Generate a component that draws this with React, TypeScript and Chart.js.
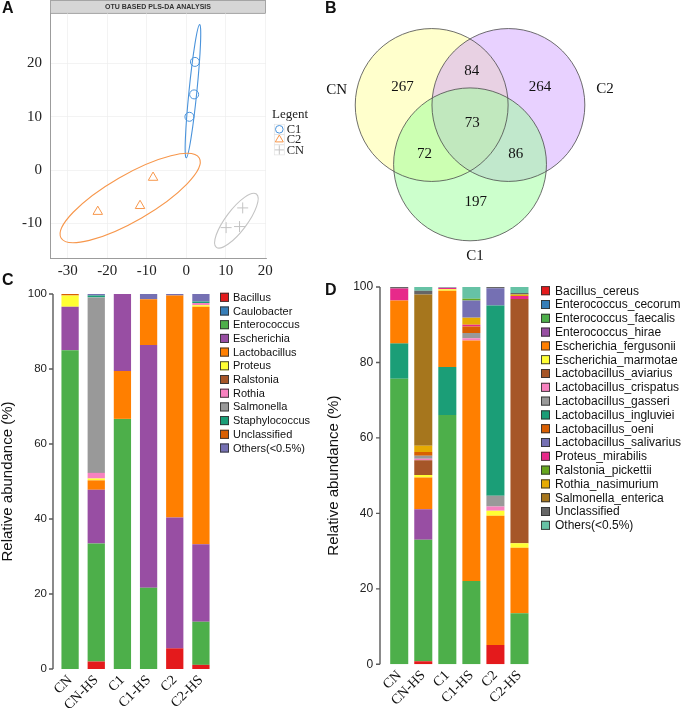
import React, { useEffect, useRef } from "react";
import { Chart, registerables } from "chart.js";
Chart.register(...registerables);

const SANS = '"Liberation Sans", Arial, Helvetica, sans-serif';
const SERIF = '"Liberation Serif", "Times New Roman", Times, serif';

// ---------------- Panel A : PLS-DA ----------------
const plsTitle = "OTU BASED PLS-DA ANALYSIS";
const plsLegendTitle = "Legent";
const plsGroups = ["C1", "C2", "CN"];
const plsColors = ["#4a93db", "#f7974c", "#c4c4c4"];
const plsShapes = ["circle", "triangle", "cross"];
const plsRadius = [4.5, 5.5, 5.5];
const c1Comp1 = [2.2, 2.0, 0.8];
const c1Comp2 = [20.3, 14.2, 10.0];
const c2Comp1 = [-22.4, -11.7, -8.4];
const c2Comp2 = [-7.8, -6.7, -1.4];
const cnComp1 = [10.1, 13.5, 14.3];
const cnComp2 = [-10.8, -10.6, -7.1];
// confidence ellipses: centre and two conjugate semi-axes (data units)
const ellipseCx = [1.7, -14.2, 12.7];
const ellipseCy = [14.8, -5.25, -9.5];
const ellipseUx = [1.7, 17.5, 5.07];
const ellipseUy = [12.5, 7.5, 5.0];
const ellipseVx = [1.0, 2.9, 2.17];
const ellipseVy = [0, -3.73, -1.2];

// ---------------- Panel B : Venn ----------------
const vennSets = ["CN", "C2", "C1"];
const vennFill = ["rgba(255,255,153,0.5)", "rgba(204,153,255,0.45)", "rgba(153,255,153,0.5)"];
const vennCx = [50.6, 78.0, 64.3];
const vennCy = [37.5, 37.5, 58.7];
const vennR = [27.3, 27.3, 27.3];
const vennSetLabelX = [16.7, 112.5, 66.1];
const vennSetLabelY = [32.1, 31.9, 91.4];
const vennCounts = ["267", "84", "264", "73", "72", "86", "197"];
const vennCountX = [40.2, 64.9, 89.3, 65.1, 48.0, 80.6, 66.3];
const vennCountY = [31.2, 25.4, 31.2, 44.0, 55.1, 55.1, 72.1];

// ---------------- Shared samples ----------------
const samples = ["CN", "CN-HS", "C1", "C1-HS", "C2", "C2-HS"];
const yAxisTitle = "Relative abundance (%)";

// ---------------- Panel C : genus ----------------
const genusNames = ["Bacillus", "Caulobacter", "Enterococcus", "Escherichia", "Lactobacillus", "Proteus", "Ralstonia", "Rothia", "Salmonella", "Staphylococcus", "Unclassified", "Others(<0.5%)"];
const genusColors = ["#e41a1c", "#377eb8", "#4daf4a", "#984ea3", "#ff7f00", "#ffff33", "#a65628", "#f781bf", "#999999", "#1b9e77", "#d95f02", "#7570b3"];
const gBacillus = [0, 2.0, 0, 0, 5.5, 1.1];
const gCaulobacter = [0, 0, 0, 0, 0, 0];
const gEnterococcus = [85.0, 31.5, 66.7, 21.7, 0, 11.5];
const gEscherichia = [11.6, 14.3, 20.5, 64.7, 34.9, 20.7];
const gLactobacillus = [0, 2.5, 12.8, 12.2, 59.2, 63.3];
const gProteus = [3.0, 0.5, 0, 0, 0, 0.4];
const gRalstonia = [0, 0, 0, 0, 0, 0];
const gRothia = [0, 1.5, 0, 0, 0, 0.6];
const gSalmonella = [0, 46.8, 0, 0, 0, 0];
const gStaphylococcus = [0, 0.5, 0, 0, 0, 0.4];
const gUnclassified = [0.4, 0, 0, 0, 0, 0];
const gOthers = [0, 0.4, 0, 1.4, 0.4, 2.0];
const genusValues = [gBacillus, gCaulobacter, gEnterococcus, gEscherichia, gLactobacillus, gProteus, gRalstonia, gRothia, gSalmonella, gStaphylococcus, gUnclassified, gOthers];
const genusStackOrder: Record<string, string[]> = {
  C1: ["Bacillus", "Enterococcus", "Lactobacillus", "Escherichia"],
};

// ---------------- Panel D : species ----------------
const speciesNames = ["Bacillus_cereus", "Enterococcus_cecorum", "Enterococcus_faecalis", "Enterococcus_hirae", "Escherichia_fergusonii", "Escherichia_marmotae", "Lactobacillus_aviarius", "Lactobacillus_crispatus", "Lactobacillus_gasseri", "Lactobacillus_ingluviei", "Lactobacillus_oeni", "Lactobacillus_salivarius", "Proteus_mirabilis", "Ralstonia_pickettii", "Rothia_nasimurium", "Salmonella_enterica", "Unclassified", "Others(<0.5%)"];
const speciesColors = ["#e41a1c", "#377eb8", "#4daf4a", "#984ea3", "#ff7f00", "#ffff33", "#a65628", "#f781bf", "#999999", "#1b9e77", "#d95f02", "#7570b3", "#e7298a", "#66a61e", "#e6ab02", "#a6761d", "#666666", "#66c2a5"];
const sCereus = [0, 0.8, 0, 0, 5.1, 0];
const sCecorum = [0, 0, 0, 0, 0, 0];
const sFaecalis = [75.7, 32.2, 66.1, 22.1, 0, 13.5];
const sHirae = [0, 8.1, 0, 0, 0, 0];
const sFergusonii = [11.3, 8.4, 20.2, 63.7, 34.3, 17.4];
const sMarmotae = [0, 0.7, 0.4, 0, 1.3, 1.2];
const sAviarius = [0, 3.9, 0, 0, 0, 64.7];
const sCrispatus = [0, 0.4, 0, 0.6, 1.1, 0];
const sGasseri = [0, 0.8, 0, 1.4, 2.9, 0];
const sIngluviei = [9.4, 0, 12.7, 0, 50.4, 0];
const sOeni = [0, 1.0, 0, 1.7, 0, 0];
const sSalivarius = [0, 0, 0, 4.5, 4.6, 0];
const sMirabilis = [3.2, 0, 0.4, 0.5, 0, 0.8];
const sPickettii = [0, 0, 0, 0.5, 0, 0];
const sNasimurium = [0, 1.6, 0, 1.9, 0, 0.4];
const sEnterica = [0, 40.1, 0, 0, 0, 0];
const sUnclassified = [0.4, 1.0, 0, 0, 0.3, 0.4];
const sOthers = [0, 1.0, 0.2, 3.1, 0, 1.6];
const speciesValues = [sCereus, sCecorum, sFaecalis, sHirae, sFergusonii, sMarmotae, sAviarius, sCrispatus, sGasseri, sIngluviei, sOeni, sSalivarius, sMirabilis, sPickettii, sNasimurium, sEnterica, sUnclassified, sOthers];
const speciesStackOrder: Record<string, string[]> = {
  CN: ["Enterococcus_faecalis", "Lactobacillus_ingluviei", "Escherichia_fergusonii", "Proteus_mirabilis", "Unclassified"],
  C1: ["Enterococcus_faecalis", "Lactobacillus_ingluviei", "Escherichia_fergusonii", "Escherichia_marmotae", "Proteus_mirabilis"],
  "C1-HS": ["Enterococcus_faecalis", "Escherichia_fergusonii", "Lactobacillus_crispatus", "Lactobacillus_gasseri", "Lactobacillus_oeni", "Proteus_mirabilis", "Rothia_nasimurium", "Lactobacillus_salivarius", "Ralstonia_pickettii"],
};

// floating segments [lo, hi] following each sample's stacking order
function buildSegments(names: string[], values: number[][], order: Record<string, string[]>) {
  const out: any[][] = names.map(() => samples.map(() => null));
  samples.forEach((s, j) => {
    const first = order[s] || [];
    const idx = [...first.map((n) => names.indexOf(n)), ...names.map((_, i) => i).filter((i) => !first.includes(names[i]))];
    let base = 0;
    idx.forEach((i) => {
      const v = values[i][j];
      if (v > 0) {
        out[i][j] = [base, base + v];
        base += v;
      }
    });
  });
  return out;
}

// ---------------- plugins ----------------
function drawShape(ctx: CanvasRenderingContext2D, shape: string, x: number, y: number, r: number) {
  ctx.beginPath();
  if (shape === "circle") ctx.arc(x, y, r, 0, Math.PI * 2);
  else if (shape === "triangle") {
    ctx.moveTo(x, y - r);
    ctx.lineTo(x + r * 0.866, y + r * 0.5);
    ctx.lineTo(x - r * 0.866, y + r * 0.5);
    ctx.closePath();
  } else {
    ctx.moveTo(x - r, y);
    ctx.lineTo(x + r, y);
    ctx.moveTo(x, y - r);
    ctx.lineTo(x, y + r);
  }
  ctx.stroke();
}

const headerPlugin = {
  id: "plsHeader",
  beforeDraw(chart: any) {
    const { ctx, chartArea } = chart;
    ctx.save();
    ctx.fillStyle = "#d6d6d6";
    ctx.fillRect(chartArea.left, 0.5, chartArea.right - chartArea.left, chartArea.top - 0.5);
    ctx.strokeStyle = "#a5a5a5";
    ctx.lineWidth = 1;
    ctx.strokeRect(chartArea.left + 0.5, 0.5, chartArea.right - chartArea.left - 1, chartArea.top - 0.5);
    ctx.restore();
  },
};

const ellipsePlugin = {
  id: "plsEllipses",
  beforeDatasetsDraw(chart: any) {
    const { ctx, scales } = chart;
    const xs = scales.x, ys = scales.y;
    const kx = xs.getPixelForValue(1) - xs.getPixelForValue(0);
    const ky = ys.getPixelForValue(1) - ys.getPixelForValue(0);
    ellipseCx.forEach((cx, i) => {
      ctx.save();
      ctx.beginPath();
      ctx.translate(xs.getPixelForValue(cx), ys.getPixelForValue(ellipseCy[i]));
      ctx.transform(ellipseUx[i] * kx, ellipseUy[i] * ky, ellipseVx[i] * kx, ellipseVy[i] * ky, 0, 0);
      ctx.arc(0, 0, 1, 0, Math.PI * 2);
      ctx.restore();
      ctx.save();
      ctx.strokeStyle = plsColors[i];
      ctx.lineWidth = 1.1;
      ctx.stroke();
      ctx.restore();
    });
  },
};

const plsLegendPlugin = {
  id: "plsLegend",
  afterDraw(chart: any, _a: any, o: any) {
    const ctx = chart.ctx;
    ctx.save();
    ctx.fillStyle = "#222";
    ctx.textBaseline = "middle";
    ctx.font = `13px ${SERIF}`;
    ctx.fillText(plsLegendTitle, o.titleX, o.titleY);
    ctx.font = `12.5px ${SERIF}`;
    plsGroups.forEach((g, i) => {
      const y = o.rowY + i * o.rowStep;
      ctx.strokeStyle = "#e2e2e2";
      ctx.lineWidth = 0.7;
      ctx.strokeRect(o.keyX - 5, y - 5, 10, 10);
      ctx.strokeStyle = plsColors[i];
      ctx.lineWidth = 1;
      drawShape(ctx, plsShapes[i], o.keyX, y, plsShapes[i] === "circle" ? 3.8 : 4.6);
      ctx.fillStyle = "#222";
      ctx.fillText(g, o.textX, y + 0.5);
    });
    ctx.restore();
  },
};

const vennPlugin = {
  id: "venn",
  beforeDatasetsDraw(chart: any) {
    const { ctx, scales } = chart;
    const xs = scales.x, ys = scales.y;
    const k = xs.getPixelForValue(1) - xs.getPixelForValue(0);
    ctx.save();
    vennSets.forEach((_, i) => {
      ctx.beginPath();
      ctx.arc(xs.getPixelForValue(vennCx[i]), ys.getPixelForValue(vennCy[i]), vennR[i] * k, 0, Math.PI * 2);
      ctx.fillStyle = vennFill[i];
      ctx.fill();
    });
    vennSets.forEach((_, i) => {
      ctx.beginPath();
      ctx.arc(xs.getPixelForValue(vennCx[i]), ys.getPixelForValue(vennCy[i]), vennR[i] * k, 0, Math.PI * 2);
      ctx.strokeStyle = "#4a4a4a";
      ctx.lineWidth = 0.8;
      ctx.stroke();
    });
    ctx.restore();
  },
  afterDatasetsDraw(chart: any) {
    const { ctx, scales } = chart;
    const xs = scales.x, ys = scales.y;
    ctx.save();
    ctx.fillStyle = "#111";
    ctx.textAlign = "center";
    ctx.textBaseline = "middle";
    ctx.font = `15px ${SERIF}`;
    vennCounts.forEach((t, i) => ctx.fillText(t, xs.getPixelForValue(vennCountX[i]), ys.getPixelForValue(vennCountY[i])));
    vennSets.forEach((t, i) => ctx.fillText(t, xs.getPixelForValue(vennSetLabelX[i]), ys.getPixelForValue(vennSetLabelY[i])));
    ctx.restore();
  },
};

const axisLinePlugin = {
  id: "axisLine",
  afterDraw(chart: any, _a: any, o: any) {
    const { ctx, chartArea } = chart;
    const y = chart.scales.y;
    const x0 = chartArea.left - o.gap;
    ctx.save();
    ctx.strokeStyle = "#5a5a5a";
    ctx.lineWidth = 1.4;
    ctx.beginPath();
    ctx.moveTo(x0, y.getPixelForValue(0));
    ctx.lineTo(x0, y.getPixelForValue(100));
    y.ticks.forEach((t: any) => {
      const py = y.getPixelForValue(t.value);
      ctx.moveTo(x0 - 4, py);
      ctx.lineTo(x0, py);
    });
    ctx.stroke();
    ctx.restore();
  },
};

const boxLegendPlugin = {
  id: "boxLegend",
  afterDraw(chart: any, _a: any, o: any) {
    const ctx = chart.ctx;
    ctx.save();
    ctx.font = `${o.fontSize}px ${SANS}`;
    ctx.textBaseline = "middle";
    chart.data.datasets.forEach((ds: any, i: number) => {
      const y = o.top + i * o.spacing;
      ctx.fillStyle = ds.backgroundColor;
      ctx.fillRect(o.left, y - 4.5, 9, 9);
      ctx.strokeStyle = "#333";
      ctx.lineWidth = 0.9;
      ctx.strokeRect(o.left + 0.45, y - 4.05, 8.1, 8.1);
      ctx.fillStyle = "#111";
      ctx.fillText(ds.label, o.left + o.textOffset, y + 0.5);
    });
    ctx.restore();
  },
};

const noPad = (s: any) => {
  s.paddingTop = 0;
  s.paddingBottom = 0;
};

// ---------------- configs ----------------
function makePanelA() {
  const xs = [c1Comp1, c2Comp1, cnComp1];
  const ys = [c1Comp2, c2Comp2, cnComp2];
  return {
    type: "scatter",
    data: {
      datasets: plsGroups.map((g, i) => ({
        label: g,
        data: xs[i].map((x, j) => ({ x, y: ys[i][j] })),
        pointStyle: plsShapes[i],
        pointRadius: plsRadius[i],
        borderColor: plsColors[i],
        backgroundColor: "rgba(0,0,0,0)",
        borderWidth: 1,
      })),
    },
    options: {
      animation: false,
      responsive: true,
      maintainAspectRatio: false,
      layout: { padding: { left: 0, right: 54, top: 0, bottom: 0 } },
      plugins: {
        legend: { display: false },
        tooltip: { enabled: false },
        title: { display: true, text: plsTitle, fullSize: false, font: { family: SANS, size: 7 }, color: "#333", padding: { top: 3, bottom: 2 } },
        plsLegend: { titleX: 272, titleY: 114.7, keyX: 279.3, rowY: 129.3, rowStep: 10.3, textX: 286.7 },
      },
      scales: {
        x: {
          type: "linear", min: -34.5, max: 20.2,
          ticks: { stepSize: 10, includeBounds: false, font: { family: SERIF, size: 15 }, color: "#222", padding: 4 },
          grid: { color: "#eeeeee", lineWidth: 0.7, drawTicks: false },
          border: { color: "#9c9c9c", width: 1 },
          afterFit: (s: any) => { s.height = 27; },
        },
        y: {
          type: "linear", min: -16.5, max: 29.4,
          ticks: { stepSize: 10, includeBounds: false, font: { family: SERIF, size: 15 }, color: "#222", padding: 8 },
          grid: { color: "#eeeeee", lineWidth: 0.7, drawTicks: false },
          border: { color: "#9c9c9c", width: 1 },
          afterFit: (s: any) => { s.width = 50; noPad(s); },
        },
      },
    },
    plugins: [headerPlugin, ellipsePlugin, plsLegendPlugin],
  };
}

function makePanelB() {
  return {
    type: "scatter",
    data: { datasets: [{ label: "regions", data: vennCountX.map((x, i) => ({ x, y: vennCountY[i] })), pointRadius: 0 }] },
    options: {
      animation: false,
      responsive: true,
      maintainAspectRatio: false,
      layout: { padding: 0 },
      plugins: { legend: { display: false }, tooltip: { enabled: false } },
      scales: {
        x: { display: false, min: 0, max: 140 },
        y: { display: false, min: 0, max: 100, reverse: true },
      },
    },
    plugins: [vennPlugin],
  };
}

function makeBarConfig(names: string[], colors: string[], values: number[][], order: Record<string, string[]>, p: any) {
  const segs = buildSegments(names, values, order);
  return {
    type: "bar",
    data: {
      labels: samples,
      datasets: names.map((n, i) => ({
        label: n,
        data: segs[i],
        backgroundColor: colors[i],
        borderWidth: 0,
        barPercentage: p.barPct,
        categoryPercentage: 1,
      })),
    },
    options: {
      animation: false,
      responsive: true,
      maintainAspectRatio: false,
      layout: { padding: { left: 0, right: p.padRight, top: p.padTop, bottom: 0 } },
      plugins: {
        legend: { display: false },
        tooltip: { enabled: false },
        axisLine: { gap: p.gap },
        boxLegend: p.legend,
      },
      scales: {
        x: {
          type: "category", offset: true, stacked: true,
          grid: { display: false, drawTicks: false },
          border: { display: false },
          ticks: { font: { family: SERIF, size: 14 }, color: "#111", minRotation: 45, maxRotation: 45, padding: 3, autoSkip: false },
          afterFit: (s: any) => { s.height = p.xHeight; s.paddingLeft = 0; s.paddingRight = 0; },
        },
        y: {
          min: 0, max: 100, stacked: false,
          grid: { display: false, drawTicks: false },
          border: { display: false },
          ticks: { stepSize: 20, font: { family: SANS, size: p.tickSize }, color: "#222", padding: p.tickPad },
          title: { display: true, text: yAxisTitle, font: { family: SANS, size: 15, lineHeight: 1 }, color: "#111", padding: { top: p.titlePad, bottom: 0 } },
          afterFit: (s: any) => { s.width = p.yWidth; noPad(s); },
        },
      },
    },
    plugins: [axisLinePlugin, boxLegendPlugin],
  };
}

function makePanelC() {
  return makeBarConfig(genusNames, genusColors, genusValues, genusStackOrder, {
    barPct: 0.66, padRight: 108, padTop: 14, gap: 4, xHeight: 39, yWidth: 57, tickSize: 11.5, tickPad: 10, titlePad: 0,
    legend: { left: 220, top: 17.3, spacing: 13.7, textOffset: 13, fontSize: 11 },
  });
}

function makePanelD() {
  return makeBarConfig(speciesNames, speciesColors, speciesValues, speciesStackOrder, {
    barPct: 0.75, padRight: 150.5, padTop: 7, gap: 7.2, xHeight: 43.7, yWidth: 65.2, tickSize: 12, tickPad: 14, titlePad: 4.5,
    legend: { left: 219, top: 10.7, spacing: 13.8, textOffset: 14, fontSize: 12 },
  });
}

function ChartCanvas({ make, left, top, width, height }: { make: () => any; left: number; top: number; width: number; height: number }) {
  const ref = useRef<HTMLCanvasElement>(null);
  useEffect(() => {
    const chart = new Chart(ref.current as HTMLCanvasElement, make());
    return () => chart.destroy();
  }, []);
  return (
    <div style={{ position: "absolute", left, top, width, height }}>
      <canvas ref={ref} style={{ display: "block" }} />
    </div>
  );
}

const panelLabelStyle: React.CSSProperties = {
  position: "absolute",
  fontFamily: SANS,
  fontWeight: "bold",
  fontSize: 16,
  lineHeight: "16px",
  color: "#111",
};

export default function App() {
  return (
    <div style={{ position: "absolute", left: 0, top: 0, width: 682, height: 708, background: "#fff", overflow: "hidden" }}>
      <ChartCanvas make={makePanelA} left={0} top={0} width={320} height={285} />
      <ChartCanvas make={makePanelB} left={290} top={0} width={392} height={280} />
      <ChartCanvas make={makePanelC} left={0} top={280} width={322} height={428} />
      <ChartCanvas make={makePanelD} left={322} top={280} width={360} height={428} />
      <div style={{ ...panelLabelStyle, left: 2, top: 0 }}>A</div>
      <div style={{ ...panelLabelStyle, left: 325, top: 0 }}>B</div>
      <div style={{ ...panelLabelStyle, left: 2, top: 272 }}>C</div>
      <div style={{ ...panelLabelStyle, left: 325, top: 282 }}>D</div>
    </div>
  );
}
